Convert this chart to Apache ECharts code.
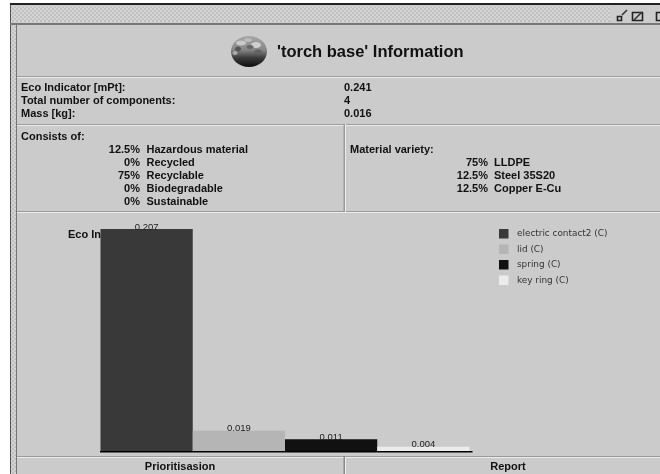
<!DOCTYPE html>
<html><head><meta charset="utf-8">
<style>html,body{margin:0;padding:0;background:#fff}#c{width:660px;height:474px;filter:blur(0.35px)}</style>
<script src="https://cdn.jsdelivr.net/npm/echarts@6/dist/echarts.min.js"></script>
</head><body><div id="c"></div>
<script>
var components = ['electric contact2 (C)', 'lid (C)', 'spring (C)', 'key ring (C)'];
var ecoValues = [0.207, 0.019, 0.011, 0.004];
var barColors = ['#393939', '#b5b5b5', '#111111', '#ececec'];
var summaryRows = [['Eco Indicator [mPt]:', '0.241'], ['Total number of components:', '4'], ['Mass [kg]:', '0.016']];
var consistsPct = ['12.5%', '0%', '75%', '0%', '0%'];
var consistsNames = ['Hazardous material', 'Recycled', 'Recyclable', 'Biodegradable', 'Sustainable'];
var varietyPct = ['75%', '12.5%', '12.5%'];
var varietyNames = ['LLDPE', 'Steel 35S20', 'Copper E-Cu'];

var F = '"Liberation Sans", Arial, sans-serif';
var g = [];
function rect(x, y, w, h, fill, z) { g.push({type:'rect', z: z||0, silent:true, shape:{x:x,y:y,width:w,height:h}, style:{fill:fill}}); }
function txt(s, x, y, o) { o=o||{}; g.push({type:'text', z:5, silent:true, x:x, y:y, style:{text:s, fill:o.fill||'#111', font:'bold '+(o.size||11)+'px '+F, textAlign:o.align||'left', textVerticalAlign:'middle'}}); }
function seg(x1,y1,x2,y2,c,w){ g.push({type:'line', z:6, silent:true, shape:{x1:x1,y1:y1,x2:x2,y2:y2}, style:{stroke:c||'#222',lineWidth:w||1}}); }
function blob(cx,cy,rx,ry,fill){ g.push({type:'ellipse', z:5, silent:true, shape:{cx:cx,cy:cy,rx:rx,ry:ry}, style:{fill:fill}}); }
function box(x,y,w,h){ g.push({type:'rect', z:6, silent:true, shape:{x:x,y:y,width:w,height:h}, style:{fill:'none',stroke:'#222',lineWidth:1.6}}); }

// dither pattern for the window chrome
var pc = document.createElement('canvas'); pc.width = 4; pc.height = 4;
var pctx = pc.getContext('2d');
pctx.fillStyle = '#d6d6d6'; pctx.fillRect(0,0,4,4);
pctx.fillStyle = '#c0c0c0'; pctx.fillRect(0,0,2,2); pctx.fillRect(2,2,2,2);
var dither = {image: pc, repeat: 'repeat'};

// window frame
rect(0,0,660,474,'#ffffff',0);
rect(10,3,650,2.5,'#222222',1);
rect(10,5,650,19,'#cccccc',1);
rect(11,7,599,15,dither,2);
rect(10,5,1,469,'#555555',1);
rect(11,24,5,450,dither,1);
rect(10,23,650,2,'#777777',2);
rect(16,25,1,449,'#777777',2);
rect(17,25,643,449,'#cbcbcb',1);
// panel separators
[76,124,211,456].forEach(function(y){ rect(17,y,643,1,'#9a9a9a',2); rect(17,y+1,643,1,'#ececec',2); });
rect(343.5,124,1.5,88,'#9a9a9a',2); rect(345,124,1,88,'#ececec',2);
rect(343.5,456,1.5,18,'#8a8a8a',2); rect(345,457,1,17,'#ececec',2);

// window buttons
box(617.5,16.5,4,4);
seg(622,15,627,10,'#333',1.6);
box(632.5,12.5,10,8);
seg(634,20,642,12,'#333',1.6);
box(656.5,12.5,8,8);

// header globe
g.push({type:'ellipse', z:4, silent:true, shape:{cx:249,cy:51.5,rx:18,ry:15.5}, style:{fill:{type:'linear',x:0,y:0,x2:0,y2:1,colorStops:[{offset:0,color:'#a8a8a8'},{offset:0.45,color:'#858585'},{offset:0.7,color:'#3c3c3c'},{offset:1,color:'#0c0c0c'}]}}});
blob(241,43,5,2.5,'#c8c8c8'); blob(256,45,5,3,'#cfcfcf'); blob(248,40,4,1.8,'#bdbdbd');
blob(238,49,3,2.5,'#555555'); blob(250,47,3.5,2,'#666666'); blob(258,52,4,2.5,'#626262'); blob(235,53,2.5,2,'#acacac');
txt("'torch base' Information", 277, 52, {size:16.5});

// summary
summaryRows.forEach(function(r,i){ var y=88+i*13; txt(r[0],21,y); txt(r[1],344,y); });
txt('Consists of:',21,137);
consistsPct.forEach(function(p,i){ var y=150+i*13; txt(p,140,y,{align:'right'}); txt(consistsNames[i],146.5,y); });
txt('Material variety:',350,150);
varietyPct.forEach(function(p,i){ var y=163+i*13; txt(p,488,y,{align:'right'}); txt(varietyNames[i],494,y); });

// bottom buttons
txt('Prioritisasion',180,467,{align:'center'});
txt('Report',508,467,{align:'center'});
// axis baseline, running slightly past the last bar as in the reference
rect(100,451,372.5,1.6,'#000000',8);

var series = components.map(function(name,i){
  return {
    name:name, type:'bar', stack:'eco', barWidth:'100%',
    data: ecoValues.map(function(v,j){ return j===i ? v : null; }),
    itemStyle:{color:barColors[i]},
    label:{show:true, position:'top', distance:-3, color:'#222', fontFamily:F, fontSize:9.5,
      formatter:function(p){ return p.value.toFixed(3); }}
  };
});

var chart = echarts.init(document.getElementById('c'), null, {renderer:'canvas'});
chart.setOption({
  animation:false,
  backgroundColor:'#ffffff',
  graphic:{elements:g},
  title:{text:'Eco Indicator', left:63, top:224, z:1, textStyle:{fontFamily:F, fontSize:11, fontWeight:'bold', color:'#111'}},
  legend:{
    data:components, orient:'vertical', left:494, top:224, itemWidth:9.5, itemHeight:9.5, itemGap:6,
    icon:'rect', textStyle:{fontFamily:'"DejaVu Sans", sans-serif', fontSize:8.9, color:'#333', padding:[0,0,0,3.5]}
  },
  grid:{left:100.5, top:20, width:369, height:431, containLabel:false},
  xAxis:{type:'category', data:components, axisLine:{show:false}, axisTick:{show:false}, axisLabel:{show:false}},
  yAxis:{type:'value', min:0, max:0.402, show:false, splitLine:{show:false}},
  series:series
});
</script></body></html>
